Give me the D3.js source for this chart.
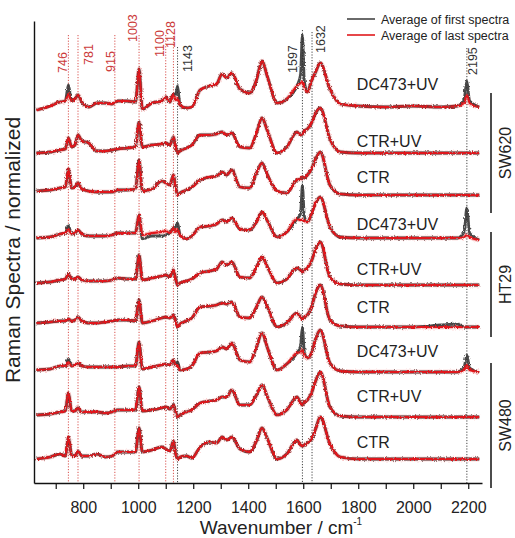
<!DOCTYPE html>
<html>
<head>
<meta charset="utf-8">
<script src="https://cdn.jsdelivr.net/npm/d3@7"></script>
<style>
  body { margin: 0; background: #fff; }
  svg, svg text { font-family: "Liberation Sans", Arial, sans-serif; }
</style>
</head>
<body>
<div id="chart"></div>
<script>
var width = 515,
    height = 538;

// wavenumber grid (cm-1) shared by all spectra
var wavenumbers = [630, 680, 715, 735, 746, 758, 770, 781, 795, 820,
  850, 880, 905, 925, 960, 990, 1003, 1015, 1050, 1085,
  1100, 1115, 1128, 1136, 1143, 1152, 1175, 1195, 1225, 1260,
  1285, 1305, 1322, 1340, 1370, 1405, 1430, 1450, 1470, 1505,
  1540, 1577, 1590, 1597, 1604, 1615, 1630, 1645, 1662, 1697,
  1735, 1800, 1900, 2000, 2100, 2160, 2185, 2195, 2205, 2240];

// spectra top to bottom
var names = ["DC473+UV", "CTR+UV", "CTR", "DC473+UV", "CTR+UV", "CTR", "DC473+UV", "CTR+UV", "CTR"];
var offsets = [376, 330, 288, 245, 198, 156, 111, 66, 24];
var labelLift = [17, 6, 12, 8, 10, 14, 15, 15, 11];

// average of last spectra (normalized, a.u.)
var sw620Dc473 = [-3, 1, 5, 6, 13, 6, 8, 12, 5, 0, 4, 4, 3, 6, 6, 5, 38, -2, 4, 6,
  10, 5, 13, 7, 9, 2, -1, 0, 17, 21, 23, 33, 29, 34, 18, 14, 27, 46, 30, 4,
  8, 21, 24, 25, 20, 15, 26, 35, 44, 18, 3, 1, 0, 1, 0, 1, 4, 12, 4, 0];
var sw620CtrUv = [0, 1, 3, 4, 15, 6, 8, 18, 12, 10, 2, 2, 3, 4, 5, 6, 31, 6, 8, 9,
  10, 8, 16, 6, 0, 2, 5, 8, 18, 18, 19, 21, 18, 20, 6, 5, 20, 35, 22, 0,
  6, 21, 18, 19, 22, 24, 30, 40, 45, 14, 1, 0, 0, 0, 0, 0, 0, 0, 0, 0];
var sw620Ctr = [4, 5, 7, 8, 26, 7, 8, 12, 6, 4, 3, 3, 3, 5, 5, 6, 35, 4, 6, 14,
  12, 10, 20, 8, 0, 2, 5, 8, 15, 18, 19, 23, 20, 25, 8, 7, 22, 32, 20, 4,
  2, 15, 16, 18, 17, 20, 26, 36, 43, 10, 1, 0, 0, 0, 0, 0, 0, 0, 0, 0];
var ht29Dc473 = [0, 1, 4, 5, 9, 4, 5, 8, 4, 2, 2, 2, 3, 5, 5, 5, 23, 3, 5, 6,
  7, 5, 10, 6, 8, 3, -1, 2, 11, 12, 14, 18, 16, 20, 9, 8, 16, 26, 17, 1,
  6, 19, 18, 18, 17, 16, 24, 35, 41, 11, 1, 0, 0, 0, 0, 0, 1, 3, 1, -2];
var ht29CtrUv = [2, 3, 5, 6, 11, 6, 6, 8, 5, 4, 4, 4, 5, 7, 6, 6, 30, 5, 7, 9,
  10, 8, 15, 6, 0, 2, 4, 6, 12, 14, 16, 23, 20, 23, 8, 7, 18, 28, 18, 2,
  6, 17, 15, 13, 15, 17, 24, 36, 43, 8, 1, 0, 0, 0, 0, 0, 0, 0, 0, 0];
var ht29Ctr = [4, 5, 6, 6, 8, 6, 7, 10, 6, 4, 4, 5, 6, 7, 7, 6, 27, 4, 6, 9,
  10, 9, 12, 6, 0, 3, 6, 9, 20, 21, 22, 24, 23, 25, 10, 9, 20, 30, 20, 0,
  4, 14, 10, 8, 10, 12, 20, 34, 42, 7, 1, 0, 0, 0, 0, 0, 0, 0, 0, 0];
var sw480Dc473 = [2, 3, 6, 6, 10, 6, 7, 9, 6, 5, 5, 5, 5, 5, 6, 6, 30, 3, 5, 7,
  8, 7, 12, 7, 7, 2, 3, 6, 19, 20, 21, 25, 23, 29, 12, 10, 25, 39, 24, 2,
  8, 19, 20, 22, 17, 14, 19, 33, 42, 9, 1, 0, 0, 0, 0, 0, 2, 7, 2, 0];
var sw480CtrUv = [2, 3, 5, 6, 24, 6, 6, 9, 5, 5, 5, 4, 5, 7, 7, 7, 30, 6, 7, 9,
  10, 8, 12, 5, 0, 2, 5, 7, 14, 16, 17, 20, 20, 27, 12, 12, 22, 32, 20, 2,
  7, 20, 14, 12, 15, 17, 24, 36, 45, 10, 1, 0, 0, 0, 0, 0, 0, 0, 0, 0];
var sw480Ctr = [0, 2, 5, 3, 22, 4, 3, 8, 3, 3, 5, 2, 3, 7, 7, 7, 31, 7, 9, 12,
  10, 8, 18, 5, 0, 2, 3, 1, 12, 17, 16, 22, 19, 22, 10, 7, 18, 31, 20, 0,
  5, 19, 14, 13, 14, 16, 20, 30, 42, 15, 2, 0, 0, 0, 0, 0, 0, 0, 0, 0];

var lastSpectra = [sw620Dc473, sw620CtrUv, sw620Ctr, ht29Dc473, ht29CtrUv, ht29Ctr,
  sw480Dc473, sw480CtrUv, sw480Ctr];

// where the average of first spectra differs from the last one: [wavenumber, difference]
var firstDiff = [
  [[746, 9], [1136, 5], [1143, 12], [1590, 8], [1597, 47], [1604, 6], [2185, 4], [2195, 14], [2205, 2]],
  [],
  [],
  [[746, 3], [1015, -4], [1050, -3], [1085, -4], [1100, -4], [1136, 5], [1143, 7], [1590, 6], [1597, 35], [1604, 5], [2185, 5], [2195, 27], [2205, 4]],
  [],
  [[2100, 2], [2160, 3]],
  [[746, 3], [1143, 3], [1590, 6], [1597, 23], [1604, 3], [2185, 3], [2195, 10], [2205, 2]],
  [],
  []
];

var redPeaks = [746, 781, 915, 1003, 1100, 1128];
var blackPeaks = [1143, 1597, 1632, 2195];
var xTicks = [700, 800, 900, 1000, 1100, 1200, 1300, 1400, 1500, 1600, 1700, 1800, 1900, 2000, 2100, 2200];
var groups = ["SW620", "HT29", "SW480"];

// label placement for the peak marks
var peakLabelDx = {746: -1, 781: 15, 915: 0.5, 1003: -2.5, 1100: -1.5, 1128: 2, 1143: 14, 1597: -5, 1632: 12.5, 2195: 10};
var peakLabelY = {746: 73, 781: 65, 915: 72, 1003: 42, 1100: 57, 1128: 48, 1143: 72, 1597: 73, 1632: 53, 2195: 75};
var peakLineTop = {746: 35, 781: 35, 915: 35, 1003: 35, 1100: 35, 1128: 36, 1143: 47, 1597: 30, 1632: 32, 2195: 48};

var svg = d3.select("#chart").append("svg")
  .attr("width", width)
  .attr("height", height);

// grainy look of the measured spectra
var noise = svg.append("defs").append("filter")
  .attr("id", "grain")
  .attr("x", "-2%").attr("y", "-10%")
  .attr("width", "104%").attr("height", "120%");
noise.append("feTurbulence")
  .attr("type", "fractalNoise")
  .attr("baseFrequency", "0.9 0.5")
  .attr("numOctaves", 2)
  .attr("seed", 3)
  .attr("result", "t");
noise.append("feDisplacementMap")
  .attr("in", "SourceGraphic")
  .attr("in2", "t")
  .attr("scale", 3)
  .attr("xChannelSelector", "R")
  .attr("yChannelSelector", "G");

var x = d3.scaleLinear().domain([621, 2250]).range([34, 482]);
var y = d3.scaleLinear().domain([0, 462]).range([483, 21]);

// dotted peak lines
var peakG = svg.append("g");
function peakLines(list, color) {
  peakG.selectAll(null)
    .data(list)
    .enter().append("line")
      .attr("x1", function(d) { return x(d); })
      .attr("x2", function(d) { return x(d); })
      .attr("y1", function(d) { return peakLineTop[d]; })
      .attr("y2", y(0))
      .attr("stroke", color)
      .attr("stroke-width", 1)
      .attr("stroke-dasharray", "1.2,1.6");
}
peakLines(redPeaks, "#d9534f");
peakLines(blackPeaks, "#444");

// peak labels
function peakLabels(list, color) {
  peakG.selectAll(null)
    .data(list)
    .enter().append("text")
      .attr("transform", function(d) { return "translate(" + (x(d) + peakLabelDx[d]) + "," + peakLabelY[d] + ") rotate(-90)"; })
      .attr("font-size", 12.5)
      .attr("fill", color)
      .text(function(d) { return d; });
}
peakLabels(redPeaks, "#cc3b3b");
peakLabels(blackPeaks, "#333");

// spectra
var line = d3.line()
  .x(function(d) { return x(d[0]); })
  .y(function(d) { return y(d[1]); })
  .curve(d3.curveMonotoneX);

var specG = svg.append("g").attr("fill", "none").attr("stroke-linejoin", "round");

lastSpectra.forEach(function(vals, i) {
  var diff = new Map(firstDiff[i]);
  var last = wavenumbers.map(function(w, j) { return [w, offsets[i] + vals[j]]; });
  var first = wavenumbers.map(function(w, j) { return [w, offsets[i] + vals[j] + (diff.get(w) || 0)]; });

  var s = specG.append("g").attr("filter", "url(#grain)");
  s.append("path")
    .attr("d", line(last))
    .attr("stroke", "#e84a4a")
    .attr("stroke-opacity", 0.35)
    .attr("stroke-width", 4.4);
  s.append("path")
    .attr("d", line(first))
    .attr("stroke", "#2b2b2b")
    .attr("stroke-opacity", 0.85)
    .attr("stroke-width", 2.8);
  s.append("path")
    .attr("d", line(last))
    .attr("stroke", "#e0191c")
    .attr("stroke-width", 2.1);

  svg.append("text")
    .attr("x", x(1795))
    .attr("y", y(offsets[i] + labelLift[i]))
    .attr("font-size", 16)
    .attr("fill", "#222")
    .text(names[i]);
});

// axes
svg.append("g")
  .attr("transform", "translate(0," + y(0) + ")")
  .call(d3.axisBottom(x)
    .tickValues(xTicks)
    .tickSize(6)
    .tickSizeOuter(0)
    .tickPadding(13)
    .tickFormat(function(d) { return d % 200 === 0 ? d : ""; }))
  .call(function(g) {
    g.attr("font-family", null).attr("font-size", null);
    g.selectAll("text").attr("font-size", 16).attr("fill", "#222");
    g.select(".domain").attr("stroke", "#111").attr("stroke-width", 1.4);
    g.selectAll(".tick line").attr("stroke", "#111").attr("stroke-width", 1.2);
  });

svg.append("g")
  .attr("transform", "translate(" + x(621) + ",0)")
  .call(d3.axisLeft(y).tickValues([]).tickSizeOuter(0))
  .call(function(g) {
    g.select(".domain").attr("stroke", "#111").attr("stroke-width", 1.4);
  });

var xTitle = svg.append("text")
  .attr("x", 281)
  .attr("y", 534)
  .attr("text-anchor", "middle")
  .attr("font-size", 19)
  .attr("fill", "#222");
xTitle.append("tspan").text("Wavenumber / cm");
xTitle.append("tspan").attr("font-size", 10).attr("dy", -9).text("-1");

svg.append("text")
  .attr("transform", "translate(20,250) rotate(-90)")
  .attr("text-anchor", "middle")
  .attr("font-size", 21)
  .attr("fill", "#222")
  .text("Raman Spectra / normalized");

// cell line brackets
var bracketTop = [93, 232, 363],
    bracketBottom = [213, 337, 488];
groups.forEach(function(gname, i) {
  svg.append("line")
    .attr("x1", 491).attr("x2", 491)
    .attr("y1", bracketTop[i]).attr("y2", bracketBottom[i])
    .attr("stroke", "#111")
    .attr("stroke-width", 1.5);
  svg.append("text")
    .attr("transform", "translate(511," + (bracketTop[i] + bracketBottom[i]) / 2 + ") rotate(-90)")
    .attr("text-anchor", "middle")
    .attr("font-size", 16)
    .attr("fill", "#222")
    .text(gname);
});

// legend
var legend = svg.append("g").attr("font-size", 12.5).attr("fill", "#222");
[["Average of first spectra", "#444"], ["Average of last spectra", "#e0191c"]].forEach(function(d, i) {
  legend.append("line")
    .attr("x1", 347).attr("x2", 375)
    .attr("y1", 19 + i * 16).attr("y2", 19 + i * 16)
    .attr("stroke", d[1])
    .attr("stroke-width", 1.6);
  legend.append("text")
    .attr("x", 381)
    .attr("y", 23.5 + i * 16)
    .text(d[0]);
});
</script>
</body>
</html>
